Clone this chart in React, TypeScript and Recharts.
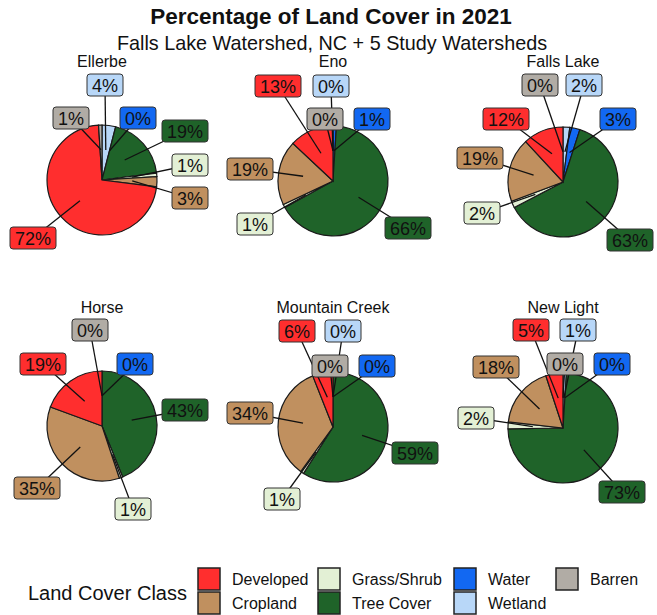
import { PieChart, Pie, Cell, Customized } from 'recharts';

// pie order, clockwise from 12 o'clock
const classes = ['Wetland', 'Water', 'Tree Cover', 'Grass/Shrub', 'Cropland', 'Developed', 'Barren'];
const legendOrder = ['Developed', 'Cropland', 'Grass/Shrub', 'Tree Cover', 'Water', 'Wetland', 'Barren'];
const watersheds = ['Ellerbe', 'Eno', 'Falls Lake', 'Horse', 'Mountain Creek', 'New Light'];

const ellerbe = [4, 0, 19, 1, 3, 72, 1];
const eno = [0, 1, 66, 1, 19, 13, 0];
const fallsLake = [2, 3, 63, 2, 19, 12, 0];
const horse = [null, 0, 43, 1, 35, 19, 0];
const mountainCreek = [0, 0, 59, 1, 34, 6, 0];
const newLight = [1, 0, 73, 2, 18, 5, 0];

const values: (number | null)[][] = [ellerbe, eno, fallsLake, horse, mountainCreek, newLight];

const COLORS: Record<string, string> = {
  Developed: '#FF2E2E',
  Cropland: '#C0905F',
  'Grass/Shrub': '#E3F0D5',
  'Tree Cover': '#1F6329',
  Water: '#1268F2',
  Wetland: '#B8D7F8',
  Barren: '#B1ACA5',
};

const FONT = '"Liberation Sans", Arial, sans-serif';
const R = 55;

// panel centres
const centers = [
  [102, 180], [333, 181], [563, 182],
  [102, 426], [333, 427], [563, 428],
];

// repelled label box positions, relative to pie centre
const labelOffsets: Record<string, [number, number]>[] = [
  { Wetland: [3, -95], Water: [36, -62], 'Tree Cover': [83, -49], 'Grass/Shrub': [88, -15], Cropland: [88, 18], Developed: [-69, 58], Barren: [-31, -62] },
  { Wetland: [-2, -95], Water: [39, -62], 'Tree Cover': [75, 47], 'Grass/Shrub': [-78, 43], Cropland: [-83, -12], Developed: [-55, -95], Barren: [-8, -62] },
  { Wetland: [21, -97], Water: [55, -63], 'Tree Cover': [67, 58], 'Grass/Shrub': [-81, 31], Cropland: [-83, -24], Developed: [-57, -63], Barren: [-23, -97] },
  { Wetland: [0, 0], Water: [33, -62], 'Tree Cover': [83, -16], 'Grass/Shrub': [31, 83], Cropland: [-65, 62], Developed: [-59, -62], Barren: [-12, -96] },
  { Wetland: [10, -96], Water: [44, -61], 'Tree Cover': [82, 26], 'Grass/Shrub': [-51, 72], Cropland: [-83, -14], Developed: [-36, -96], Barren: [-3, -61] },
  { Wetland: [15, -98], Water: [49, -64], 'Tree Cover': [59, 64], 'Grass/Shrub': [-87, -10], Cropland: [-67, -61], Developed: [-32, -98], Barren: [2, -64] },
];

const RAD = Math.PI / 180;

const makeLabel = (offsets: Record<string, [number, number]>) => (p: any) => {
  const name = p.payload?.name ?? p.name;
  const [dx, dy] = offsets[name];
  const r = p.outerRadius * 0.55;
  const px = p.cx + r * Math.cos(-p.midAngle * RAD);
  const py = p.cy + r * Math.sin(-p.midAngle * RAD);
  const bx = p.cx + dx;
  const by = p.cy + dy;
  const text = `${p.value}%`;
  const w = String(p.value).length * 10 + 26;
  return (
    <g>
      <line x1={px} y1={py} x2={bx} y2={by} stroke="#111" strokeWidth={1.3} />
      <rect x={bx - w / 2} y={by - 11} width={w} height={22} rx={3} fill={COLORS[name]} stroke="#333" strokeWidth={1} />
      <text x={bx} y={by + 6.5} textAnchor="middle" fontSize={18} fontFamily={FONT} fill="#111">
        {text}
      </text>
    </g>
  );
};

const legendCols = [198, 318, 454, 556];

const Decorations = () => (
  <g fontFamily={FONT} fill="#111">
    <text x={331} y={24} textAnchor="middle" fontSize={22.5} fontWeight="bold">
      Percentage of Land Cover in 2021
    </text>
    <text x={332} y={50} textAnchor="middle" fontSize={19.8}>
      Falls Lake Watershed, NC + 5 Study Watersheds
    </text>
    {watersheds.map((w, i) => (
      <text key={w} x={centers[i][0]} y={i < 3 ? 67 : 313} textAnchor="middle" fontSize={16}>
        {w}
      </text>
    ))}
    <text x={28} y={600} fontSize={20}>Land Cover Class</text>
    {legendOrder.map((c, i) => {
      const x = legendCols[Math.floor(i / 2)];
      const y = i % 2 === 0 ? 568 : 592;
      return (
        <g key={c}>
          <rect x={x} y={y} width={22} height={22} fill={COLORS[c]} stroke="#222" strokeWidth={1.5} />
          <text x={x + 34} y={y + 17} fontSize={16}>{c}</text>
        </g>
      );
    })}
  </g>
);

export default function App() {
  return (
    <div style={{ position: 'absolute', left: 0, top: 0, width: 657, height: 615, background: '#fff' }}>
      <PieChart width={657} height={615} margin={{ top: 0, right: 0, bottom: 0, left: 0 }}>
        {watersheds.map((w, i) => {
          const data = classes
            .map((c, j) => ({ name: c, value: values[i][j] }))
            .filter((d) => d.value !== null);
          return (
            <Pie
              key={w}
              data={data}
              dataKey="value"
              nameKey="name"
              cx={centers[i][0]}
              cy={centers[i][1]}
              outerRadius={R}
              startAngle={90}
              endAngle={-270}
              stroke="#1a1a1a"
              strokeWidth={1.2}
              label={makeLabel(labelOffsets[i])}
              labelLine={false}
              isAnimationActive={false}
            >
              {data.map((d) => (
                <Cell key={d.name} fill={COLORS[d.name]} />
              ))}
            </Pie>
          );
        })}
        <Customized component={Decorations} />
      </PieChart>
    </div>
  );
}
